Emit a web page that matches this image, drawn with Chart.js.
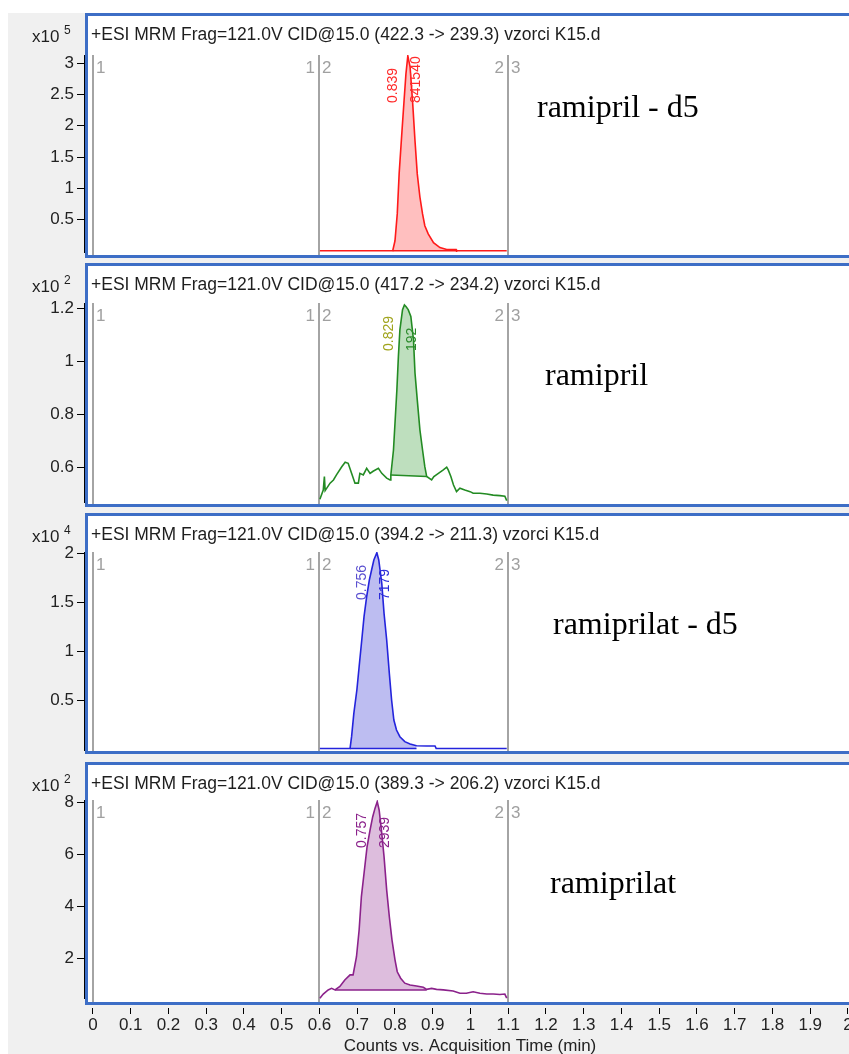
<!DOCTYPE html>
<html><head><meta charset="utf-8">
<script src="https://cdn.jsdelivr.net/npm/chart.js@4.4.1/dist/chart.umd.min.js"></script>
<style>
html,body{margin:0;padding:0;background:#fff;overflow:hidden;width:849px;height:1054px;position:relative;}
#bg{position:absolute;left:8px;top:13px;width:900px;height:1100px;background:#f0f0f0;}
canvas{position:absolute;left:0;top:0;}
</style></head><body>
<div id="bg"></div>
<canvas id="c0" width="870" height="1060"></canvas>
<canvas id="c1" width="870" height="1060"></canvas>
<canvas id="c2" width="870" height="1060"></canvas>
<canvas id="c3" width="870" height="1060"></canvas>
<script>
// ---------------- data ----------------
const compounds = ['ramipril - d5', 'ramipril', 'ramiprilat - d5', 'ramiprilat'];
const transitions = ['(422.3 -> 239.3)', '(417.2 -> 234.2)', '(394.2 -> 211.3)', '(389.3 -> 206.2)'];
const exponents = ['5', '2', '4', '2'];
const rtLabels = ['0.839', '0.829', '0.756', '0.757'];
const areaLabels = ['841540', '192', '7179', '2939'];
const segmentBounds = [0, 0.6, 1.1];
const xTickValues = [0, 0.1, 0.2, 0.3, 0.4, 0.5, 0.6, 0.7, 0.8, 0.9, 1, 1.1, 1.2, 1.3, 1.4, 1.5, 1.6, 1.7, 1.8, 1.9, 2];

const yTicks1 = [0.5, 1, 1.5, 2, 2.5, 3];
const yTicks2 = [0.6, 0.8, 1, 1.2];
const yTicks3 = [0.5, 1, 1.5, 2];
const yTicks4 = [2, 4, 6, 8];

const time1 = [0.601, 0.794, 0.800, 0.806, 0.811, 0.818, 0.824, 0.829, 0.834, 0.840, 0.847, 0.853, 0.859, 0.866, 0.873, 0.879, 0.888, 0.902, 0.919, 0.937, 0.962, 0.963, 1.096];
const counts1 = [0, 0, 0.16, 0.59, 1.23, 1.87, 2.40, 2.83, 3.12, 2.94, 2.35, 1.76, 1.23, 0.86, 0.59, 0.40, 0.27, 0.13, 0.05, 0.02, 0.02, 0, 0];
const peak1 = [0.794, 0.962];
const base1 = [0, 0];

const time2 = [0.601, 0.610, 0.613, 0.615, 0.628, 0.637, 0.645, 0.659, 0.668, 0.676, 0.685, 0.694, 0.703, 0.707, 0.716, 0.725, 0.734, 0.742, 0.756, 0.765, 0.778, 0.787, 0.789, 0.796, 0.800, 0.805, 0.809, 0.813, 0.820, 0.825, 0.829, 0.835, 0.842, 0.849, 0.853, 0.859, 0.866, 0.873, 0.879, 0.884, 0.897, 0.903, 0.915, 0.928, 0.937, 0.941, 0.948, 0.955, 0.963, 0.972, 0.985, 0.999, 1.007, 1.025, 1.043, 1.060, 1.078, 1.091, 1.096];
const counts2 = [0.479, 0.514, 0.565, 0.512, 0.540, 0.552, 0.571, 0.602, 0.619, 0.615, 0.577, 0.540, 0.540, 0.577, 0.571, 0.596, 0.577, 0.585, 0.596, 0.577, 0.559, 0.552, 0.571, 0.665, 0.766, 0.892, 1.017, 1.118, 1.194, 1.212, 1.206, 1.194, 1.168, 1.080, 0.955, 0.854, 0.741, 0.665, 0.602, 0.565, 0.552, 0.565, 0.577, 0.590, 0.600, 0.590, 0.565, 0.533, 0.508, 0.521, 0.514, 0.508, 0.502, 0.502, 0.499, 0.495, 0.493, 0.491, 0.474];
const peak2 = [0.789, 0.884];
const base2 = [0.571, 0.565];

const time3 = [0.601, 0.681, 0.685, 0.691, 0.699, 0.705, 0.712, 0.718, 0.725, 0.732, 0.738, 0.744, 0.752, 0.757, 0.765, 0.771, 0.778, 0.785, 0.791, 0.797, 0.804, 0.813, 0.826, 0.840, 0.857, 0.884, 0.906, 0.909, 1.091, 1.096];
const counts3 = [0.005, 0.005, 0.125, 0.364, 0.602, 0.840, 1.113, 1.352, 1.556, 1.726, 1.829, 1.931, 2.006, 1.931, 1.692, 1.386, 1.113, 0.772, 0.500, 0.295, 0.193, 0.125, 0.074, 0.050, 0.033, 0.030, 0.030, 0.005, 0.005, 0.005];
const peak3 = [0.681, 0.857];
const base3 = [0.005, 0.005];

const time4 = [0.601, 0.610, 0.623, 0.632, 0.641, 0.654, 0.667, 0.681, 0.689, 0.698, 0.705, 0.711, 0.720, 0.726, 0.734, 0.741, 0.747, 0.753, 0.758, 0.764, 0.771, 0.778, 0.785, 0.792, 0.800, 0.806, 0.815, 0.826, 0.840, 0.857, 0.875, 0.884, 0.897, 0.910, 0.928, 0.954, 0.972, 0.989, 1.007, 1.025, 1.043, 1.060, 1.078, 1.091, 1.096];
const counts4 = [0.46, 0.62, 0.78, 0.84, 0.78, 0.91, 1.16, 1.36, 1.36, 2.06, 3.09, 4.38, 5.53, 6.30, 6.95, 7.46, 7.78, 8.04, 7.72, 6.95, 5.92, 4.63, 3.60, 2.71, 1.94, 1.48, 1.23, 1.04, 0.97, 0.93, 0.88, 0.80, 0.84, 0.80, 0.78, 0.74, 0.65, 0.65, 0.71, 0.65, 0.62, 0.62, 0.60, 0.62, 0.46];
const peak4 = [0.641, 0.884];
const base4 = [0.78, 0.78];

// ---------------- layout & style ----------------
const panels = [
  {time: time1, counts: counts1, peak: peak1, base: base1, yTicks: yTicks1},
  {time: time2, counts: counts2, peak: peak2, base: base2, yTicks: yTicks2},
  {time: time3, counts: counts3, peak: peak3, base: base3, yTicks: yTicks3},
  {time: time4, counts: counts4, peak: peak4, base: base4, yTicks: yTicks4}
];
const layout = [
  {panelTop: 13, panelBottom: 258, plotTop: 55, plotBottom: 252, areaBottom: 252, yMin: -0.02, yMax: 3.133, nameX: 537, nameY: 117},
  {panelTop: 263, panelBottom: 507, plotTop: 303, plotBottom: 502, areaBottom: 502, yMin: 0.469, yMax: 1.219, nameX: 545, nameY: 385},
  {panelTop: 513, panelBottom: 754, plotTop: 552, plotBottom: 750, areaBottom: 750, yMin: -0.011, yMax: 2.013, nameX: 553, nameY: 634},
  {panelTop: 762, panelBottom: 1005, plotTop: 800, plotBottom: 998, areaBottom: 1008, yMin: 0.082, yMax: 8.104, nameX: 550, nameY: 893}
];
const styles = [
  {line: '#ff1a1a', fill: 'rgba(255,60,60,0.33)', rt: '#ff2a2a', area: '#ff2a2a'},
  {line: '#238b23', fill: 'rgba(40,150,40,0.30)', rt: '#a0a41c', area: '#2a8a2a'},
  {line: '#2424dc', fill: 'rgba(50,50,210,0.32)', rt: '#5a4fd0', area: '#2a2ad8'},
  {line: '#8b228b', fill: 'rgba(150,50,150,0.32)', rt: '#8b228b', area: '#8b228b'}
];
const CANVAS_W = 870, CANVAS_H = 1060, AREA_RIGHT = 856, AXIS_LEFT = 84;
const SANS = '"Liberation Sans", Arial, sans-serif';
const SERIF = '"Liberation Serif", "Times New Roman", serif';
const BORDER_BLUE = '#3d6ec6';

Chart.defaults.font.family = SANS;

function panelPlugin(i) {
  const L = layout[i], S = styles[i], P = panels[i];
  return {
    id: 'panel' + i,
    beforeDraw(chart) {
      const ctx = chart.ctx;
      ctx.save();
      // panel box (continues past the right edge of the window)
      ctx.fillStyle = '#ffffff';
      ctx.fillRect(85, L.panelTop, CANVAS_W + 20 - 85, L.panelBottom - L.panelTop);
      ctx.strokeStyle = BORDER_BLUE;
      ctx.lineWidth = 3;
      ctx.strokeRect(85 + 1.5, L.panelTop + 1.5, CANVAS_W + 20 - 85 - 3, L.panelBottom - L.panelTop - 3);
      // header
      ctx.fillStyle = '#1e1e1e';
      ctx.font = '17.5px ' + SANS;
      ctx.textAlign = 'left';
      ctx.textBaseline = 'alphabetic';
      ctx.fillText('+ESI MRM Frag=121.0V CID@15.0 ' + transitions[i] + ' vzorci K15.d', 91, L.panelTop + 27);
      // x10^n
      ctx.font = '17px ' + SANS;
      ctx.fillText('x10', 32, L.panelTop + 29);
      ctx.font = '12px ' + SANS;
      ctx.fillText(exponents[i], 64, L.panelTop + 21);
      ctx.restore();
    },
    beforeDatasetsDraw(chart) {
      const ctx = chart.ctx, xs = chart.scales.x;
      ctx.save();
      ctx.strokeStyle = '#a4a4a4';
      ctx.lineWidth = 2;
      ctx.fillStyle = '#a0a0a0';
      ctx.font = '17px ' + SANS;
      ctx.textBaseline = 'alphabetic';
      segmentBounds.forEach((b, k) => {
        const px = Math.round(xs.getPixelForValue(b));
        ctx.beginPath();
        ctx.moveTo(px, L.plotTop);
        ctx.lineTo(px, L.panelBottom - 3);
        ctx.stroke();
        ctx.textAlign = 'left';
        ctx.fillText(String(k + 1), px + 3, L.plotTop + 18);
        if (k > 0) {
          ctx.textAlign = 'right';
          ctx.fillText(String(k), px - 4, L.plotTop + 18);
        }
      });
      ctx.restore();
    },
    afterDatasetsDraw(chart) {
      const ctx = chart.ctx, xs = chart.scales.x;
      let best = -1, bx = 0;
      P.time.forEach((t, k) => {
        if (t >= P.peak[0] && t <= P.peak[1] && P.counts[k] > best) { best = P.counts[k]; bx = t; }
      });
      const apex = xs.getPixelForValue(bx);
      ctx.save();
      ctx.font = '14px ' + SANS;
      ctx.textAlign = 'left';
      ctx.textBaseline = 'alphabetic';
      const y0 = L.plotTop + 48;
      [[rtLabels[i], apex - 11, S.rt], [areaLabels[i], apex + 12, S.area]].forEach(([txt, x, col]) => {
        ctx.save();
        ctx.translate(x, y0);
        ctx.rotate(-Math.PI / 2);
        ctx.fillStyle = col;
        ctx.fillText(txt, 0, 0);
        ctx.restore();
      });
      ctx.restore();
    },
    afterDraw(chart) {
      const ctx = chart.ctx;
      ctx.save();
      if (L.areaBottom > L.plotBottom) {
        ctx.fillStyle = '#f0f0f0';
        ctx.fillRect(76, L.plotBottom + 1, 9, L.areaBottom - L.plotBottom);
      }
      ctx.fillStyle = '#000';
      ctx.font = '32px ' + SERIF;
      ctx.textAlign = 'left';
      ctx.textBaseline = 'alphabetic';
      ctx.fillText(compounds[i], L.nameX, L.nameY);
      ctx.restore();
    }
  };
}

function makeChart(i) {
  const L = layout[i], S = styles[i], P = panels[i];
  const trace = P.time.map((t, k) => ({x: t, y: P.counts[k]}));
  const peakPts = trace.filter(p => p.x >= P.peak[0] && p.x <= P.peak[1]);
  const basePts = [{x: P.peak[0], y: P.base[0]}, {x: P.peak[1], y: P.base[1]}];
  const isLast = i === 3;
  return new Chart(document.getElementById('c' + i), {
    type: 'line',
    data: {
      datasets: [
        {label: 'trace', data: trace, borderColor: S.line, borderWidth: 1.6, pointRadius: 0, tension: 0, fill: false, order: 0},
        {label: 'baseline', data: basePts, borderColor: S.line, borderWidth: 1.5, pointRadius: 0, tension: 0, fill: false, order: 1},
        {label: 'area', data: peakPts, borderWidth: 0, borderColor: 'rgba(0,0,0,0)', backgroundColor: S.fill, pointRadius: 0, tension: 0, fill: 1, order: 2}
      ]
    },
    options: {
      responsive: false,
      animation: false,
      devicePixelRatio: 1,
      events: [],
      layout: {padding: {top: L.plotTop, bottom: isLast ? 0 : CANVAS_H - L.areaBottom, left: 0, right: CANVAS_W - AREA_RIGHT}},
      plugins: {legend: {display: false}, tooltip: {enabled: false}},
      scales: {
        x: {
          type: 'linear', min: -0.0238, max: 2.0212, display: isLast,
          afterBuildTicks: s => { s.ticks = xTickValues.map(v => ({value: v})); },
          afterFit: s => { if (isLast) s.height = CANVAS_H - L.areaBottom; },
          grid: {drawOnChartArea: false, drawTicks: true, tickLength: 6, color: '#000', tickWidth: 1},
          border: {display: false},
          ticks: {autoSkip: false, maxRotation: 0, minRotation: 0, color: '#222', font: {size: 17}, padding: 1,
                  callback: v => String(Math.round(v * 10) / 10)},
          title: {display: true, text: 'Counts vs. Acquisition Time (min)', color: '#222', font: {size: 17}, padding: {top: 0, bottom: 3}}
        },
        y: {
          type: 'linear', min: L.yMin, max: L.yMax,
          afterFit: s => { s.width = AXIS_LEFT; },
          afterBuildTicks: s => { s.ticks = P.yTicks.map(v => ({value: v})); },
          grid: {drawOnChartArea: false, drawTicks: true, tickLength: 7, color: '#000', tickWidth: 1},
          border: {display: true, color: '#000', width: 1},
          ticks: {color: '#222', font: {size: 17}, padding: 3, callback: v => String(v)}
        }
      }
    },
    plugins: [panelPlugin(i)]
  });
}
[0, 1, 2, 3].forEach(makeChart);
</script>
</body></html>
